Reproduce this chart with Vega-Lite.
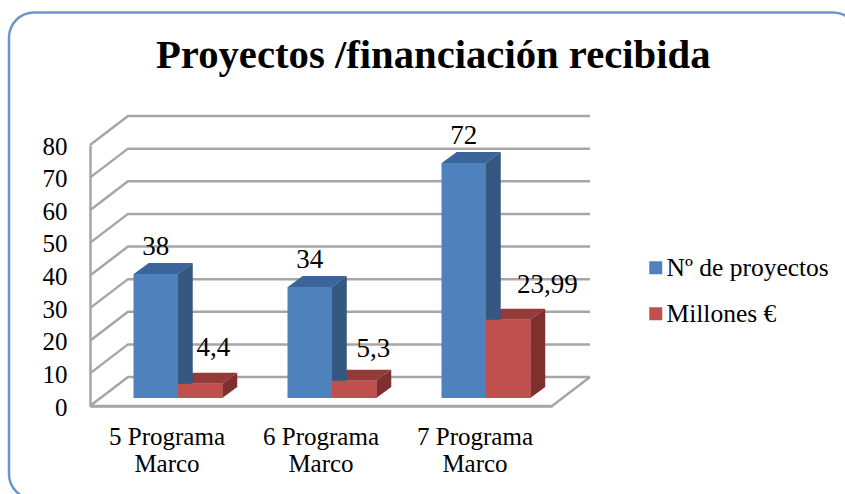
{
"$schema":"https://vega.github.io/schema/vega-lite/v6.json",
"width":462,"height":261,
"autosize":{"type":"none"},
"padding":{"left":90,"top":145,"right":293,"bottom":88},
"background":"#ffffff",
"view":{"stroke":null},
"title":{"text":"Proyectos /financiación recibida","font":"Liberation Serif","fontSize":40.7,"fontWeight":"bold","color":"#000000","anchor":"start","frame":"group","dx":66,"dy":0,"offset":-97,"baseline":"alphabetic"},
"datasets":{
"barras":[
{"programa":"5 Programa Marco","serie":"Nº de proyectos","valor":38,"etiqueta":"38"},
{"programa":"5 Programa Marco","serie":"Millones €","valor":4.4,"etiqueta":"4,4"},
{"programa":"6 Programa Marco","serie":"Nº de proyectos","valor":34,"etiqueta":"34"},
{"programa":"6 Programa Marco","serie":"Millones €","valor":5.3,"etiqueta":"5,3"},
{"programa":"7 Programa Marco","serie":"Nº de proyectos","valor":72,"etiqueta":"72"},
{"programa":"7 Programa Marco","serie":"Millones €","valor":23.99,"etiqueta":"23,99"}
],
"rejilla":[{"valor":0},{"valor":10},{"valor":20},{"valor":30},{"valor":40},{"valor":50},{"valor":60},{"valor":70},{"valor":80}],
"marco":[{"nombre":"marco"}]
},
"encoding":{
"y":{"field":"valor","type":"quantitative","scale":{"domain":[0,80],"nice":false},
"axis":{"title":null,"values":[0,10,20,30,40,50,60,70,80],"grid":false,"ticks":false,"domainColor":"#a6a6a6","domainWidth":2.5,"labelFont":"Liberation Serif","labelFontSize":25,"labelColor":"#000000","labelPadding":23,"labelOffset":1}}
},
"layer":[
{"data":{"name":"marco"},"mark":{"type":"rect","fill":"transparent","stroke":"#6b96cc","strokeWidth":2.5,"cornerRadius":25,"clip":false},"encoding":{"x":{"value":-81},"x2":{"value":768},"y":{"value":-132.5},"y2":{"value":354}}},
{"data":{"name":"rejilla"},"mark":{"type":"point","shape":"M0 0L38 -29L500 -29","size":4,"filled":false,"stroke":"#a6a6a6","strokeWidth":2.5,"opacity":1},"encoding":{"x":{"value":0}}},
{"data":{"name":"rejilla"},"transform":[{"filter":"datum.valor==0"}],"mark":{"type":"point","shape":"M0 0L462 0L500 -29","size":4,"filled":false,"stroke":"#a6a6a6","strokeWidth":2.5,"opacity":1},"encoding":{"x":{"value":0}}},
{"data":{"name":"barras"},
"encoding":{
"x":{"field":"programa","type":"nominal","sort":null,"scale":{"paddingInner":0,"paddingOuter":0},
"axis":{"title":null,"labelAngle":0,"ticks":false,"domainColor":"#a6a6a6","domainWidth":2.5,"labelFont":"Liberation Serif","labelFontSize":25,"labelColor":"#000000","labelPadding":18,"labelLineHeight":27,"labelExpr":"[slice(datum.label,0,10),slice(datum.label,11)]"}},
"xOffset":{"field":"serie","type":"nominal","sort":["Nº de proyectos","Millones €"],"scale":{"range":[11,165],"paddingInner":0,"paddingOuter":0.73}}
},
"resolve":{"scale":{"color":"independent"}},
"layer":[
{"transform":[{"calculate":"'M-22 0L-7 -11L37 -11L22 0Z'","as":"cara"}],"mark":{"type":"point","filled":true,"opacity":1,"size":4,"yOffset":-8},"encoding":{"shape":{"field":"cara","type":"nominal","scale":null},"color":{"field":"serie","type":"nominal","scale":{"domain":["Nº de proyectos","Millones €"],"range":["#3a659a","#943a38"]},"legend":null}}},
{"transform":[{"calculate":"'M22 0L37 -11L37 '+format(datum.valor*3.2625-11,'.1f')+'L22 '+format(datum.valor*3.2625,'.1f')+'Z'","as":"cara"}],"mark":{"type":"point","filled":true,"opacity":1,"size":4,"yOffset":-8},"encoding":{"shape":{"field":"cara","type":"nominal","scale":null},"color":{"field":"serie","type":"nominal","scale":{"domain":["Nº de proyectos","Millones €"],"range":["#34587f","#7f302e"]},"legend":null}}},
{"mark":{"type":"bar","yOffset":-8,"y2Offset":-8},
"encoding":{"color":{"field":"serie","type":"nominal","scale":{"domain":["Nº de proyectos","Millones €"],"range":["#4f81bd","#c0504d"]},
"legend":{"title":null,"orient":"none","legendX":553,"legendY":110,"symbolType":"square","symbolSize":169,"symbolStrokeWidth":0,"labelFont":"Liberation Serif","labelFontSize":25.5,"labelColor":"#000000","labelLimit":300,"rowPadding":19,"labelOffset":-2}}}},
{"transform":[{"filter":"datum.serie=='Nº de proyectos'"}],"mark":{"type":"text","font":"Liberation Serif","fontSize":27,"color":"#000000","dy":-35,"baseline":"middle"},"encoding":{"text":{"field":"etiqueta"}}},
{"transform":[{"filter":"datum.etiqueta=='4,4'"}],"mark":{"type":"text","font":"Liberation Serif","fontSize":27,"color":"#000000","dx":13,"dy":-44,"baseline":"middle"},"encoding":{"text":{"field":"etiqueta"}}},
{"transform":[{"filter":"datum.etiqueta=='5,3'"}],"mark":{"type":"text","font":"Liberation Serif","fontSize":27,"color":"#000000","dx":19,"dy":-40,"baseline":"middle"},"encoding":{"text":{"field":"etiqueta"}}},
{"transform":[{"filter":"datum.etiqueta=='23,99'"}],"mark":{"type":"text","font":"Liberation Serif","fontSize":27,"color":"#000000","dx":39,"dy":-43,"baseline":"middle"},"encoding":{"text":{"field":"etiqueta"}}}
]}
]
}
